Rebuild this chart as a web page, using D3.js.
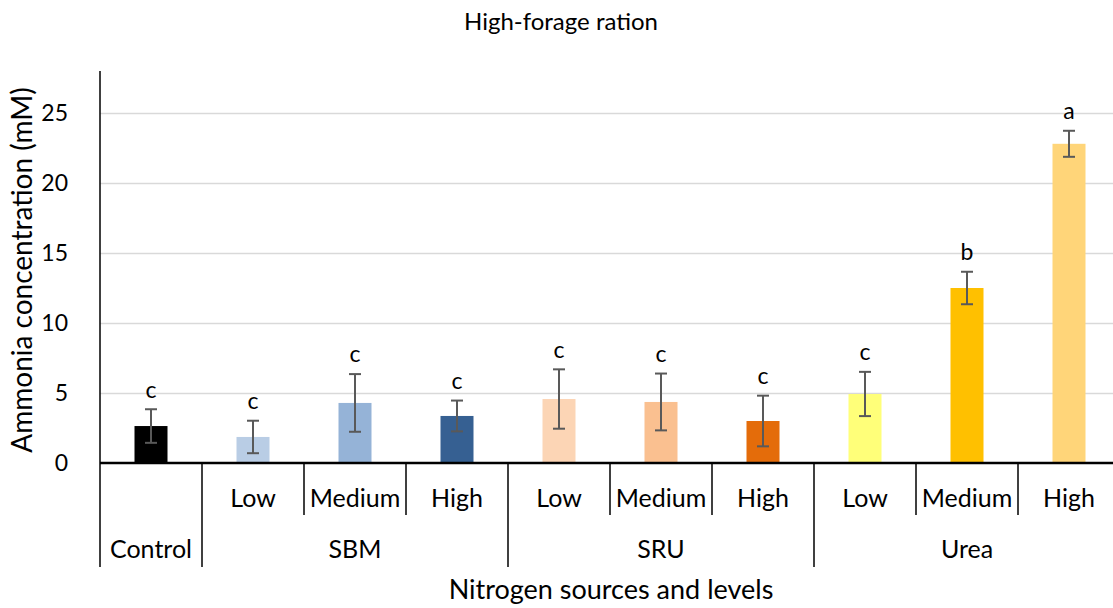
<!DOCTYPE html>
<html lang="en">
<head>
    <meta charset="UTF-8">
    <title>High-forage ration</title>
    <script src="https://d3js.org/d3.v7.min.js"></script>
    <style>
        body { margin: 0; background: #fff; }
        text { font-family: Lato, "Open Sans", sans-serif; fill: #000; }
        .grid line { stroke: #d9d9d9; stroke-width: 1.5px; }
        .grid .domain { display: none; }
        .errbar { stroke: #595959; stroke-width: 2px; }
    </style>
</head>
<body>
    <svg id="chart" width="1113" height="608"></svg>

    <script>
        // Data
        var sources = ["Control", "SBM", "SBM", "SBM", "SRU", "SRU", "SRU", "Urea", "Urea", "Urea"];
        var levels = ["", "Low", "Medium", "High", "Low", "Medium", "High", "Low", "Medium", "High"];
        var means = [2.64, 1.86, 4.29, 3.36, 4.57, 4.36, 3.0, 4.93, 12.5, 22.8];
        var errors = [1.2, 1.16, 2.06, 1.1, 2.12, 2.03, 1.81, 1.58, 1.16, 0.93];
        var letters = ["c", "c", "c", "c", "c", "c", "c", "c", "b", "a"];
        var yTicks = [0, 5, 10, 15, 20, 25];

        var colors = ["#000000", "#b9cde5", "#95b3d7", "#366092", "#fcd5b5", "#fac090", "#e46c0a", "#ffff79", "#ffc000", "#ffd579"];

        var margin = {top: 71, left: 100, bottom: 145},
            bandW = 102,
            plotH = 608 - margin.top - margin.bottom;

        var svg = d3.select("#chart");

        var x = d3.scaleBand()
            .domain(d3.range(means.length))
            .range([margin.left, margin.left + bandW * means.length]);

        var y = d3.scaleLinear()
            .domain([0, 28])
            .range([margin.top + plotH, margin.top]);

        var y0 = y(0);

        // Gridlines
        svg.append("g")
            .attr("class", "grid")
            .attr("transform", "translate(" + margin.left + ",0)")
            .call(d3.axisLeft(y).tickValues(yTicks.slice(1)).tickSize(-1113).tickFormat(""));

        // Y tick labels
        svg.append("g")
            .selectAll("text")
            .data(yTicks)
            .join("text")
            .attr("x", 68)
            .attr("y", function(d) { return y(d); })
            .attr("dy", "0.36em")
            .attr("text-anchor", "end")
            .style("font-size", "23px")
            .text(function(d) { return d; });

        // Bars
        var barW = 33;
        svg.append("g")
            .selectAll("rect")
            .data(means)
            .join("rect")
            .attr("x", function(d, i) { return x(i) + bandW / 2 - barW / 2; })
            .attr("y", function(d) { return y(d); })
            .attr("width", barW)
            .attr("height", function(d) { return y0 - y(d); })
            .attr("fill", function(d, i) { return colors[i]; });

        // Error bars
        var eb = svg.append("g").attr("class", "errbar");
        means.forEach(function(m, i) {
            var cx = x(i) + bandW / 2;
            eb.append("line").attr("x1", cx).attr("x2", cx)
                .attr("y1", y(m + errors[i])).attr("y2", y(m - errors[i]));
            eb.append("line").attr("x1", cx - 6).attr("x2", cx + 6)
                .attr("y1", y(m + errors[i])).attr("y2", y(m + errors[i]));
            eb.append("line").attr("x1", cx - 6).attr("x2", cx + 6)
                .attr("y1", y(m - errors[i])).attr("y2", y(m - errors[i]));
        });

        // Significance letters
        svg.append("g")
            .selectAll("text")
            .data(letters)
            .join("text")
            .attr("x", function(d, i) { return x(i) + bandW / 2; })
            .attr("y", function(d, i) { return y(means[i] + errors[i]) - 19; })
            .attr("dy", "0.32em")
            .attr("text-anchor", "middle")
            .style("font-size", "23px")
            .text(function(d) { return d; });

        // Axes lines
        svg.append("line")
            .attr("x1", margin.left).attr("x2", margin.left)
            .attr("y1", margin.top).attr("y2", y0)
            .attr("stroke", "#000").attr("stroke-width", 1.5);

        // Category separators (full height where the source changes)
        var sepG = svg.append("g").attr("stroke", "#000").attr("stroke-width", 1.5);
        d3.range(means.length + 1).forEach(function(i) {
            var full = i === 0 || i === means.length || sources[i] !== sources[i - 1];
            var xx = margin.left + i * bandW;
            sepG.append("line")
                .attr("x1", xx).attr("x2", xx)
                .attr("y1", y0).attr("y2", full ? 567 : 515);
        });

        svg.append("line")
            .attr("x1", margin.left).attr("x2", 1113)
            .attr("y1", y0).attr("y2", y0)
            .attr("stroke", "#000").attr("stroke-width", 2.5);

        // Level labels
        svg.append("g")
            .selectAll("text")
            .data(levels)
            .join("text")
            .attr("x", function(d, i) { return x(i) + bandW / 2; })
            .attr("y", 507)
            .attr("text-anchor", "middle")
            .style("font-size", "25px")
            .text(function(d) { return d; });

        // Source labels, centered over their group
        var groups = d3.groups(d3.range(sources.length), function(i) { return sources[i]; });
        svg.append("g")
            .selectAll("text")
            .data(groups)
            .join("text")
            .attr("x", function(g) {
                var idx = g[1];
                return (x(idx[0]) + x(idx[idx.length - 1]) + bandW) / 2;
            })
            .attr("y", 558)
            .attr("text-anchor", "middle")
            .style("font-size", "25px")
            .text(function(g) { return g[0]; });

        // Titles
        svg.append("text")
            .attr("x", 561)
            .attr("y", 30)
            .attr("text-anchor", "middle")
            .style("font-size", "24px")
            .text("High-forage ration");

        svg.append("text")
            .attr("x", 611)
            .attr("y", 599)
            .attr("text-anchor", "middle")
            .style("font-size", "27px")
            .text("Nitrogen sources and levels");

        svg.append("text")
            .attr("transform", "translate(32," + (margin.top + plotH / 2 + 3) + ") rotate(-90)")
            .attr("text-anchor", "middle")
            .style("font-size", "28px")
            .text("Ammonia concentration (mM)");
    </script>
</body>
</html>
